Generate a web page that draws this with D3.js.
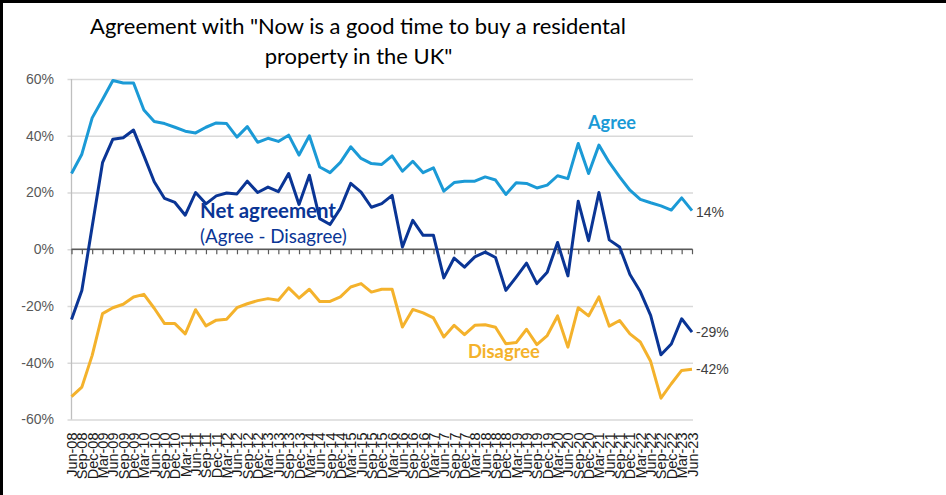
<!DOCTYPE html>
<html>
<head>
<meta charset="utf-8">
<script src="https://cdn.jsdelivr.net/npm/d3@7"></script>
<style>
  html, body { margin: 0; padding: 0; background: #fff; }
  svg { display: block; }
</style>
</head>
<body>
<script>
// ---------------- DATA ----------------
const categories = [
  "Jun-08","Sep-08","Dec-08",
  "Mar-09","Jun-09","Sep-09","Dec-09",
  "Mar-10","Jun-10","Sep-10","Dec-10",
  "Mar-11","Jun-11","Sep-11","Dec-11",
  "Mar-12","Jun-12","Sep-12","Dec-12",
  "Mar-13","Jun-13","Sep-13","Dec-13",
  "Mar-14","Jun-14","Sep-14","Dec-14",
  "Mar-15","Jun-15","Sep-15","Dec-15",
  "Mar-16","Jun-16","Sep-16","Dec-16",
  "Mar-17","Jun-17","Sep-17","Dec-17",
  "Mar-18","Jun-18","Sep-18","Dec-18",
  "Mar-19","Jun-19","Sep-19","Dec-19",
  "Mar-20","Jun-20","Sep-20","Dec-20",
  "Mar-21","Jun-21","Sep-21","Dec-21",
  "Mar-22","Jun-22","Sep-22","Dec-22",
  "Mar-23","Jun-23"
];

// percentages
const agree = [
  26.7, 33.5, 46.3, 52.8, 59.5, 58.6, 58.6, 49.1, 45.0, 44.3,
  43.0, 41.6, 41.0, 43.0, 44.5, 44.3, 39.5, 43.2, 37.7, 39.1,
  38.0, 40.2, 33.2, 40.0, 29.0, 27.0, 30.6, 36.1, 32.0, 30.2,
  29.9, 32.9, 27.5, 31.0, 27.0, 28.7, 20.5, 23.5, 24.0, 24.0,
  25.5, 24.4, 19.3, 23.4, 23.2, 21.6, 22.6, 25.9, 24.9, 37.3,
  26.7, 36.7, 30.6, 25.5, 20.8, 17.6, 16.4, 15.3, 13.8, 18.1, 13.6
];

const disagree = [
  -51.9, -48.6, -37.4, -22.7, -20.6, -19.4, -16.8, -15.9, -20.8, -26.2,
  -26.2, -29.8, -21.3, -27.0, -25.0, -24.7, -20.6, -19.2, -18.1, -17.4,
  -18.0, -13.6, -17.2, -14.1, -18.4, -18.4, -16.8, -13.3, -12.1, -15.1,
  -14.1, -14.1, -27.4, -21.2, -22.4, -24.2, -30.9, -26.8, -30.1, -26.8,
  -26.6, -27.5, -33.3, -32.9, -28.2, -33.6, -30.4, -23.5, -34.5, -20.6,
  -23.5, -16.8, -27.1, -25.1, -29.8, -32.7, -39.5, -52.5, -47.4, -42.7, -42.3
];

const netAgreement = [
  -24.8, -14.5, 8.0, 30.5, 38.8, 39.3, 42.0, 33.0, 23.8, 17.9,
  16.5, 12.0, 20.0, 16.0, 18.8, 19.8, 19.5, 24.0, 20.0, 21.9,
  20.3, 26.7, 15.8, 26.1, 10.8, 8.7, 14.4, 23.2, 20.1, 14.8,
  16.1, 19.0, 0.8, 10.2, 4.9, 4.9, -10.1, -3.1, -6.3, -2.7,
  -1.0, -2.9, -14.5, -9.8, -4.9, -12.1, -8.1, 2.4, -9.4, 16.9,
  3.0, 20.0, 3.3, 0.8, -8.9, -14.9, -23.3, -37.2, -33.4, -24.5, -29.2
];

const yTickValues = [-60, -40, -20, 0, 20, 40, 60];
const yTickLabels = ["-60%", "-40%", "-20%", "0%", "20%", "40%", "60%"];
const endLabels = ["14%", "-29%", "-42%"];

const titleLines = ["Agreement with \"Now is a good time to buy a residental", "property in the UK\""];

// ---------------- LAYOUT ----------------
const W = 946, H = 495;
const colAgree = "#1b9ad6";
const colNet = "#0a3595";
const colDis = "#f4b22c";

const svg = d3.select("body").append("svg")
  .attr("width", W).attr("height", H);

svg.append("rect").attr("width", W).attr("height", H).attr("fill", "#fff");

// frame (top + left border)
svg.append("line").attr("x1", 0).attr("x2", W).attr("y1", 1.5).attr("y2", 1.5)
  .attr("stroke", "#000").attr("stroke-width", 3);
svg.append("line").attr("x1", 1.5).attr("x2", 1.5).attr("y1", 0).attr("y2", H)
  .attr("stroke", "#000").attr("stroke-width", 3);

const x = d3.scalePoint().domain(categories).range([71.5, 692]);
const y = d3.scaleLinear().domain([-60, 60]).range([419.5, 79]);

// fit helper
function fit(sel, target) {
  const len = sel.node().getComputedTextLength();
  const fs = parseFloat(sel.attr("font-size"));
  sel.attr("font-size", fs * target / len);
}

// title
const t1 = svg.append("text").attr("x", 358).attr("y", 34)
  .attr("text-anchor", "middle").attr("font-family", "Lato, 'Open Sans', sans-serif")
  .attr("font-size", 20).attr("fill", "#000").text(titleLines[0]);
fit(t1, 536);
const t2 = svg.append("text").attr("x", 358.5).attr("y", 64)
  .attr("text-anchor", "middle").attr("font-family", "Lato, 'Open Sans', sans-serif")
  .attr("font-size", t1.attr("font-size")).attr("fill", "#000").text(titleLines[1]);

// gridlines
const grid = svg.append("g").attr("transform", "translate(71.5,0)")
  .call(d3.axisLeft(y).tickValues(yTickValues).tickSize(-(692 - 71.5) - 1).tickFormat(""));
grid.select(".domain").remove();
grid.selectAll(".tick line").attr("stroke", "#d9d9d9").attr("stroke-width", 1.3)
  .attr("x1", -4);

// y axis line
svg.append("line").attr("x1", 71.5).attr("x2", 71.5)
  .attr("y1", y(60)).attr("y2", y(-60))
  .attr("stroke", "#bfbfbf").attr("stroke-width", 1.3);

// y tick labels
const yAx = svg.append("g").attr("transform", "translate(54,0)")
  .call(d3.axisLeft(y).tickValues(yTickValues).tickSize(0).tickPadding(0)
    .tickFormat((d, i) => yTickLabels[i]));
yAx.select(".domain").remove();
yAx.selectAll("text").attr("font-family", "'Liberation Sans', Arial, sans-serif")
  .attr("font-size", 14).attr("fill", "#595959");

// zero axis with tick marks
const zAx = svg.append("g").attr("transform", `translate(0,${y(0)})`)
  .call(d3.axisBottom(x).tickSize(5).tickFormat("").tickSizeOuter(0));
zAx.select(".domain").attr("stroke", "#595959").attr("stroke-width", 1.3)
  .attr("d", `M71.5,0H692.5`);
zAx.selectAll(".tick line").attr("stroke", "#595959").attr("stroke-width", 1.2);

// x labels at bottom
const xAx = svg.append("g").attr("transform", `translate(0,${y(-60)})`)
  .call(d3.axisBottom(x).tickSize(0).tickFormat((d) => d));
xAx.select(".domain").remove();
xAx.selectAll("text")
  .attr("font-family", "'Liberation Sans', Arial, sans-serif")
  .attr("font-size", 14.5).attr("fill", "#1a1a1a")
  .attr("text-anchor", "end")
  .attr("dy", null)
  .attr("transform", "translate(5,13) rotate(-90)")
  .attr("x", 0).attr("y", 0);

// lines
const line = d3.line()
  .x((d, i) => x(categories[i]))
  .y(d => y(d));

[[agree, colAgree], [disagree, colDis], [netAgreement, colNet]].forEach(([data, c]) => {
  svg.append("path").datum(data)
    .attr("d", line)
    .attr("fill", "none")
    .attr("stroke", c)
    .attr("stroke-width", 3)
    .attr("stroke-linejoin", "round")
    .attr("stroke-linecap", "butt");
});

// series labels
const fam = "Lato, 'Open Sans', sans-serif";
const lA = svg.append("text").attr("x", 588).attr("y", 129)
  .attr("font-family", fam).attr("font-weight", "bold").attr("font-size", 17)
  .attr("fill", colAgree).text("Agree");
fit(lA, 48);
const lN = svg.append("text").attr("x", 200).attr("y", 218)
  .attr("font-family", fam).attr("font-weight", "bold").attr("font-size", 17)
  .attr("fill", colNet).text("Net agreement");
fit(lN, 136);
const lN2 = svg.append("text").attr("x", 200).attr("y", 243)
  .attr("font-family", fam).attr("font-size", 17)
  .attr("fill", colNet).text("(Agree - Disagree)");
fit(lN2, 147);
const lD = svg.append("text").attr("x", 468).attr("y", 358)
  .attr("font-family", fam).attr("font-weight", "bold").attr("font-size", 17)
  .attr("fill", colDis).text("Disagree");
fit(lD, 72);

// end labels
const lastIdx = categories.length - 1;
const ends = [agree[lastIdx], netAgreement[lastIdx], disagree[lastIdx]];
const endDy = [1, 0, 0];
ends.forEach((v, i) => {
  svg.append("text")
    .attr("x", x(categories[lastIdx]) + 4)
    .attr("y", y(v) + 5 + endDy[i])
    .attr("font-family", "'Liberation Sans', Arial, sans-serif")
    .attr("font-size", 14).attr("fill", "#404040")
    .text(endLabels[i]);
});
</script>
</body>
</html>
